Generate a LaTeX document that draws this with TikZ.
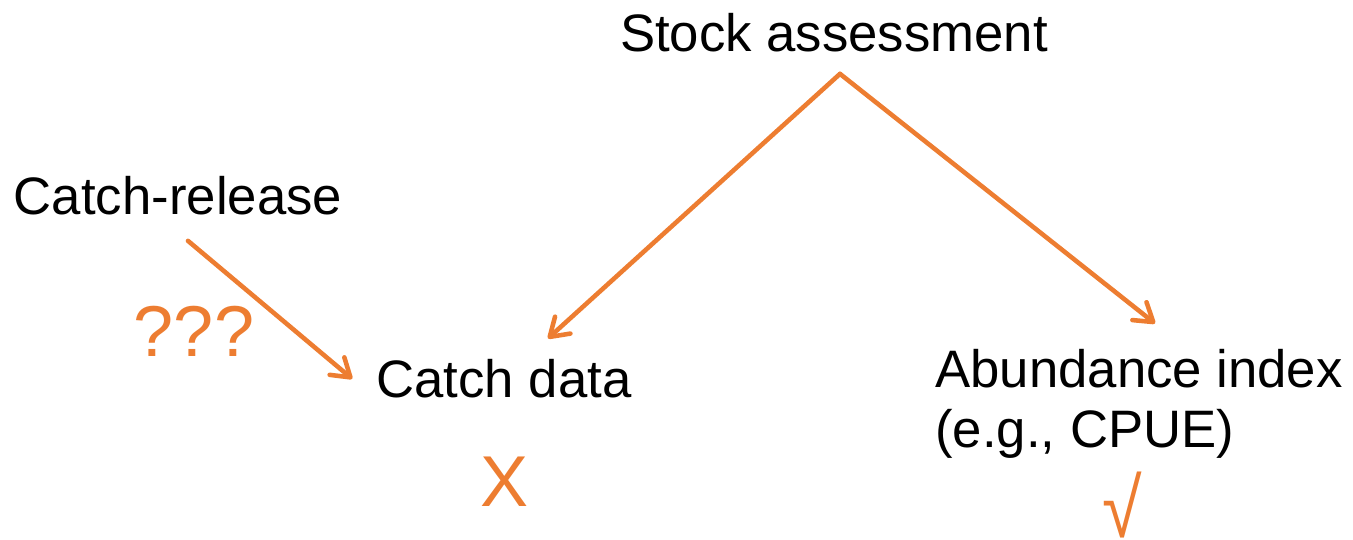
\documentclass[tikz,border=0pt]{standalone}
\usepackage{fontspec}
\setmainfont{Liberation Sans}
\usetikzlibrary{calc}
\usetikzlibrary{positioning, arrows.meta}

\definecolor{flow}{HTML}{ED7D31}

\tikzset{
    label text/.style={inner sep=0pt, font=\fontsize{30}{36}\selectfont},
    mark text/.style={inner sep=0pt, text=flow, font=\fontsize{41}{48}\selectfont},
    flow arrow/.style={draw=flow, line width=2.6pt, line cap=round, line join=round,
        -{Straight Barb[length=10pt, width=13pt, line cap=round, line join=round]}}
}

\begin{document}
\begin{tikzpicture}[x=0.02cm, y=-0.02cm]
        \useasboundingbox (0,0) rectangle (1353,540);

        \node[label text, anchor=base] (stock) at (834,52) {Stock assessment};
        \node[label text, anchor=base] (release) at (178,215) {Catch-release};
        \node[label text, anchor=base] (catch) at (504,398) {Catch data};
        \node[label text, anchor=base west] (abund) at (935,388) {Abundance index};
        \node[label text, anchor=base west] (cpue) at (935,448) {(e.g., CPUE)};

        \node[mark text, anchor=base] (unknown) at (194,357) {???};
        \node[mark text, anchor=base] (bad) at (505,507) {X};
        % slightly stretched radical sign
        \node[mark text, anchor=base] (good) at (1122,538) {\scalebox{1}[1.15]{√}};

        % split point under the title
        \coordinate (apex) at ($(stock.south)+(6,21)$);

        \draw[flow arrow] ($(release.south)+(10,25)$) -- ($(catch.south west)+(-24,-20)$);
        \draw[flow arrow] (apex) -- ($(catch.north)+(44,-21)$);
        \draw[flow arrow] (apex) -- ($(abund.north west)+(220,-26)$);
    \end{tikzpicture}
\end{document}
